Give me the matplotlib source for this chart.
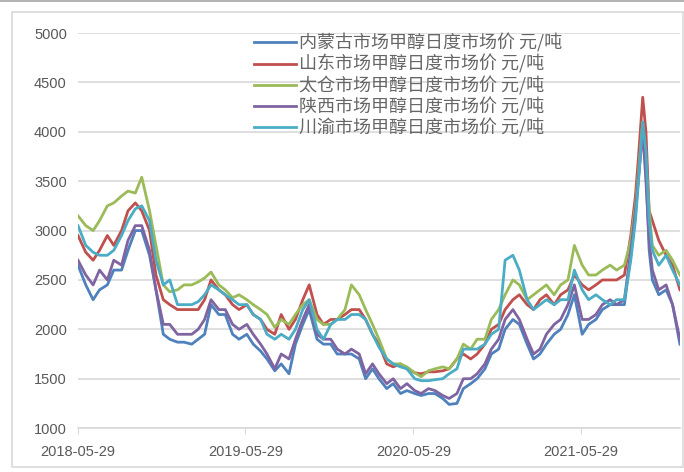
import pandas as pd
import matplotlib
matplotlib.use("Agg")
import matplotlib.pyplot as plt
import matplotlib.dates as mdates
from matplotlib.patches import Rectangle

# semi-monthly readings (yuan/ton), extra points around the Oct 2021 spike
dates = ["2018-05-29", "2018-06-15", "2018-07-01", "2018-07-15", "2018-08-01", "2018-08-15",
         "2018-09-01", "2018-09-15", "2018-10-01", "2018-10-15", "2018-11-01", "2018-11-15",
         "2018-12-01", "2018-12-15", "2019-01-01", "2019-01-15", "2019-02-01", "2019-02-15",
         "2019-03-01", "2019-03-15", "2019-04-01", "2019-04-15", "2019-05-01", "2019-05-15",
         "2019-06-01", "2019-06-15", "2019-07-01", "2019-07-15", "2019-08-01", "2019-08-15",
         "2019-09-01", "2019-09-15", "2019-10-01", "2019-10-15", "2019-11-01", "2019-11-15",
         "2019-12-01", "2019-12-15", "2020-01-01", "2020-01-15", "2020-02-01", "2020-02-15",
         "2020-03-01", "2020-03-15", "2020-04-01", "2020-04-15", "2020-05-01", "2020-05-15",
         "2020-06-01", "2020-06-15", "2020-07-01", "2020-07-15", "2020-08-01", "2020-08-15",
         "2020-09-01", "2020-09-15", "2020-10-01", "2020-10-15", "2020-11-01", "2020-11-15",
         "2020-12-01", "2020-12-15", "2021-01-01", "2021-01-15", "2021-02-01", "2021-02-15",
         "2021-03-01", "2021-03-15", "2021-04-01", "2021-04-15", "2021-05-01", "2021-05-15",
         "2021-06-01", "2021-06-15", "2021-07-01", "2021-07-15", "2021-08-01", "2021-08-15",
         "2021-09-01", "2021-09-15", "2021-09-25", "2021-10-01", "2021-10-11", "2021-10-18",
         "2021-10-25", "2021-11-01", "2021-11-15", "2021-12-01", "2021-12-15", "2021-12-31"]

neimenggu = [2650, 2450, 2300, 2400, 2450, 2600, 2600, 2800, 3000, 3000, 2750, 2400,
             1950, 1900, 1870, 1870, 1850, 1900, 1950, 2250, 2150, 2150, 1950, 1900,
             1950, 1850, 1780, 1700, 1580, 1650, 1550, 1850, 2050, 2200, 1900, 1850,
             1850, 1750, 1750, 1750, 1700, 1500, 1600, 1500, 1400, 1450, 1350, 1380,
             1350, 1330, 1350, 1350, 1300, 1240, 1250, 1400, 1450, 1500, 1600, 1750,
             1800, 2000, 2100, 2050, 1850, 1700, 1750, 1850, 1950, 2000, 2150, 2350,
             1950, 2050, 2100, 2200, 2250, 2250, 2250, 2750, 3150, 3500, 4050, 3600,
             2800, 2500, 2350, 2400, 2250, 1850]
shandong = [2950, 2780, 2700, 2800, 2950, 2850, 3000, 3200, 3280, 3200, 3000, 2550,
            2300, 2250, 2200, 2200, 2200, 2200, 2300, 2500, 2400, 2350, 2250, 2200,
            2250, 2150, 2100, 2000, 1950, 2150, 2000, 2100, 2300, 2450, 2150, 2050,
            2100, 2100, 2150, 2200, 2200, 2100, 1950, 1850, 1650, 1620, 1650, 1600,
            1560, 1550, 1570, 1570, 1580, 1600, 1700, 1750, 1700, 1750, 1850, 2000,
            2050, 2200, 2300, 2350, 2250, 2200, 2300, 2350, 2250, 2350, 2400, 2550,
            2450, 2400, 2450, 2500, 2500, 2500, 2550, 2950, 3350, 3700, 4350, 4000,
            3200, 3100, 2900, 2750, 2650, 2400]
taicang = [3150, 3050, 3000, 3100, 3250, 3280, 3350, 3400, 3380, 3540, 3200, 2850,
           2450, 2380, 2400, 2450, 2450, 2480, 2520, 2580, 2450, 2400, 2320, 2350,
           2300, 2250, 2200, 2150, 2020, 2100, 2050, 2150, 2250, 2300, 2100, 2050,
           2050, 2100, 2200, 2450, 2350, 2200, 2050, 1900, 1700, 1650, 1650, 1620,
           1560, 1520, 1580, 1600, 1620, 1600, 1700, 1850, 1800, 1900, 1900, 2100,
           2200, 2350, 2500, 2450, 2300, 2350, 2400, 2450, 2350, 2450, 2500, 2850,
           2650, 2550, 2550, 2600, 2650, 2600, 2650, 2900, 3250, 3550, 4100, 3700,
           3200, 2850, 2750, 2800, 2700, 2550]
shaanxi = [2700, 2550, 2450, 2600, 2500, 2700, 2650, 2900, 3050, 3050, 2800, 2400,
           2050, 2050, 1950, 1950, 1950, 2000, 2100, 2300, 2200, 2200, 2050, 2000,
           2050, 1950, 1850, 1750, 1600, 1750, 1700, 1900, 2100, 2250, 1950, 1900,
           1900, 1800, 1750, 1800, 1750, 1550, 1650, 1550, 1450, 1500, 1400, 1450,
           1380, 1350, 1400, 1380, 1330, 1300, 1350, 1500, 1500, 1550, 1650, 1800,
           1900, 2100, 2200, 2100, 1900, 1750, 1800, 1950, 2050, 2100, 2250, 2450,
           2100, 2100, 2150, 2250, 2300, 2250, 2300, 2800, 3200, 3500, 4000, 3500,
           2900, 2600, 2400, 2450, 2250, 1900]
chuanyu = [3050, 2850, 2780, 2750, 2750, 2800, 2950, 3100, 3220, 3250, 3100, 2700,
           2450, 2500, 2250, 2250, 2250, 2280, 2350, 2450, 2400, 2350, 2300, 2250,
           2250, 2150, 2100, 1950, 1900, 1950, 1900, 2000, 2200, 2300, 2000, 1900,
           2050, 2100, 2100, 2150, 2150, 2100, 1950, 1820, 1700, 1650, 1620, 1600,
           1500, 1480, 1480, 1490, 1500, 1550, 1600, 1800, 1800, 1800, 1850, 1950,
           2000, 2700, 2750, 2600, 2300, 2200, 2250, 2300, 2250, 2300, 2300, 2600,
           2400, 2300, 2350, 2300, 2250, 2300, 2300, 2700, 3100, 3450, 4100, 3800,
           3100, 2800, 2650, 2750, 2600, 2450]

labels = ["内蒙古市场甲醇日度市场价 元/吨", "山东市场甲醇日度市场价 元/吨",
          "太仓市场甲醇日度市场价 元/吨", "陕西市场甲醇日度市场价 元/吨",
          "川渝市场甲醇日度市场价 元/吨"]
colors = ["#4F81BD", "#C0504D", "#9BBB59", "#8064A2", "#4BACC6"]
tick_dates = ["2018-05-29", "2019-05-29", "2020-05-29", "2021-05-29"]

x = pd.to_datetime(dates)
series = [neimenggu, shandong, taicang, shaanxi, chuanyu]

fig = plt.figure(figsize=(6.84, 4.72), dpi=100)
ax = fig.add_axes([0.114, 0.093, 0.88, 0.837])

for vals, lab, col in zip(series, labels, colors):
    ax.plot(x, vals, color=col, lw=2, label=lab)

ax.set_ylim(1000, 5000)
ax.set_yticks(range(1000, 5001, 500))
ax.set_xlim(pd.Timestamp("2018-05-29"), pd.Timestamp("2021-12-31"))
ax.set_xticks(pd.to_datetime(tick_dates))
ax.xaxis.set_major_formatter(mdates.DateFormatter("%Y-%m-%d"))

ax.grid(axis="y", color="#D9D9D9", lw=1.2)
ax.set_axisbelow(True)
for s in ["top", "right", "left"]:
    ax.spines[s].set_visible(False)
ax.spines["bottom"].set_color("#D9D9D9")
ax.spines["bottom"].set_linewidth(1.2)
ax.tick_params(axis="y", length=0, pad=8, labelsize=10.5, labelcolor="#595959")
ax.tick_params(axis="x", length=4, color="#D9D9D9", pad=8, labelsize=10.5, labelcolor="#595959")
for t in ax.get_xticklabels() + ax.get_yticklabels():
    t.set_family("Liberation Sans")

leg = ax.legend(loc="upper left", bbox_to_anchor=(0.281, 1.017), frameon=False,
                prop={"family": ["Noto Sans CJK SC", "DejaVu Sans"], "size": 13},
                labelspacing=0.12, handlelength=2.3, handletextpad=0.15, borderaxespad=0)
for t in leg.get_texts():
    t.set_color("#666666")

# outer chart frame, like the spreadsheet chart area
fig.patches.append(Rectangle((0.018, 0.01), 0.98, 0.965, transform=fig.transFigure,
                             fill=False, edgecolor="#D9D9D9", lw=1.2))
fig.add_artist(plt.Line2D([0, 1], [0.997, 0.997], transform=fig.transFigure,
                          color="#A6A6A6", lw=1.2))

fig.savefig("out.png", dpi=100)
